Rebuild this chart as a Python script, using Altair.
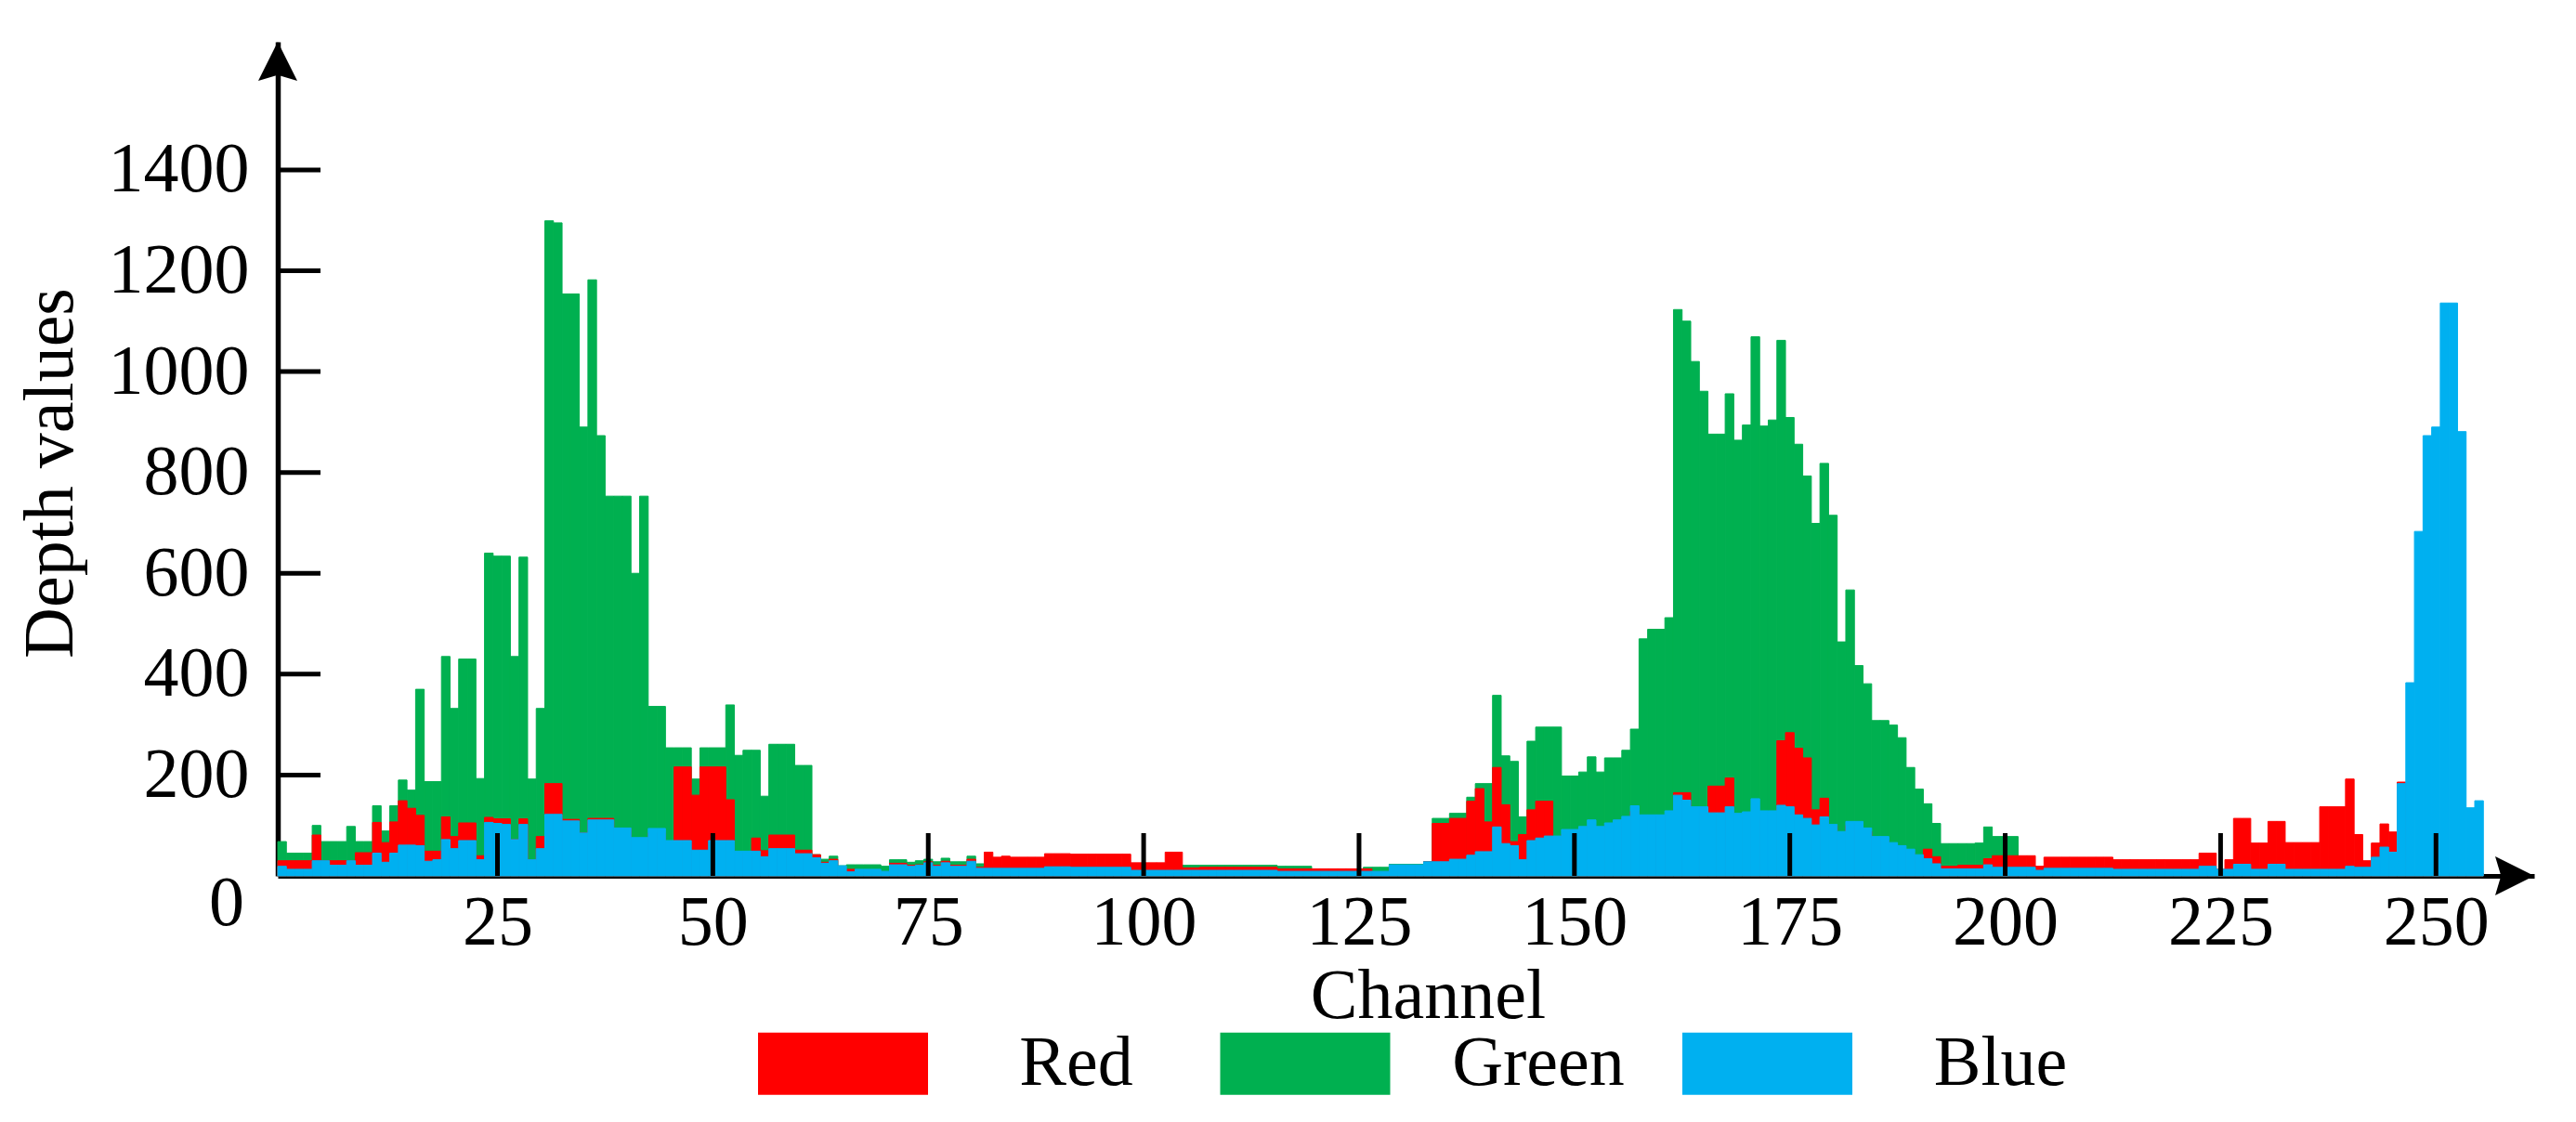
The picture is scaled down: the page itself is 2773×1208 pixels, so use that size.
import altair as alt
import pandas as pd

# ---- data (channel 0..255) ----
GREEN = [
    68, 45, 45, 45, 100, 68, 68, 68, 98, 68,
    68, 139, 89, 139, 190, 170, 370, 187, 187, 435,
    332, 430, 430, 193, 640, 634, 634, 435, 632, 192,
    332, 1299, 1295, 1154, 1154, 890, 1182, 873, 753, 753,
    753, 600, 753, 336, 336, 254, 254, 254, 192, 254,
    254, 254, 339, 239, 249, 249, 158, 261, 261, 261,
    219, 219, 42, 33, 39, 20, 22, 22, 22, 22,
    19, 32, 32, 27, 30, 33, 28, 35, 28, 28,
    39, 24, 24, 20, 20, 20, 20, 20, 20, 20,
    20, 20, 20, 20, 20, 20, 20, 20, 20, 20,
    20, 20, 20, 20, 20, 21, 21, 21, 21, 21,
    21, 21, 21, 21, 21, 21, 19, 19, 19, 19,
    12, 12, 12, 12, 12, 12, 17, 17, 17, 23,
    23, 23, 23, 28, 114, 114, 124, 124, 156, 183,
    183, 358, 238, 227, 117, 267, 295, 295, 295, 198,
    198, 206, 236, 206, 234, 234, 249, 291, 470, 489,
    489, 512, 1123, 1100, 1020, 961, 876, 876, 956, 864,
    894, 1069, 892, 904, 1062, 909, 856, 793, 699, 818,
    715, 464, 567, 417, 381, 308, 308, 299, 274, 215,
    172, 143, 104, 64, 64, 64, 64, 65, 97, 78,
    78, 78, 4, 4, 4, 4, 4, 4, 4, 4,
    4, 4, 4, 4, 4, 4, 4, 4, 4, 4,
    4, 4, 4, 4, 4, 4, 4, 4, 4, 4,
    4, 4, 4, 4, 4, 4, 4, 4, 4, 4,
    4, 4, 4, 4, 4, 4, 4, 4, 4, 4,
    4, 4, 4, 4, 4, 4,
]

RED = [
    30, 30, 30, 30, 81, 30, 30, 30, 30, 46,
    46, 106, 66, 107, 149, 134, 120, 49, 49, 117,
    78, 105, 105, 40, 116, 113, 113, 72, 113, 32,
    78, 183, 183, 112, 112, 85, 114, 114, 114, 94,
    94, 70, 70, 85, 85, 68, 216, 216, 160, 216,
    216, 216, 151, 45, 45, 75, 50, 81, 81, 81,
    51, 51, 42, 27, 33, 10, 13, 10, 10, 10,
    8, 25, 25, 21, 22, 28, 21, 29, 21, 21,
    33, 17, 47, 37, 39, 37, 37, 37, 37, 44,
    44, 44, 43, 43, 43, 43, 43, 43, 43, 26,
    26, 26, 26, 47, 47, 16, 16, 17, 17, 17,
    17, 17, 17, 17, 17, 17, 14, 14, 14, 14,
    14, 14, 14, 14, 14, 14, 14, 8, 8, 15,
    15, 15, 15, 28, 104, 104, 114, 114, 148, 173,
    107, 215, 141, 68, 82, 131, 148, 148, 70, 82,
    82, 88, 100, 88, 100, 100, 108, 128, 110, 110,
    110, 120, 165, 165, 125, 120, 178, 178, 194, 115,
    115, 115, 115, 120, 268, 284, 253, 234, 131, 154,
    100, 80, 100, 100, 88, 70, 70, 58, 52, 45,
    35, 53, 38, 19, 19, 21, 21, 21, 34, 40,
    40, 40, 40, 40, 19, 37, 37, 37, 37, 37,
    37, 37, 37, 32, 32, 32, 32, 32, 32, 32,
    32, 32, 32, 45, 45, 13, 32, 114, 114, 65,
    65, 108, 108, 66, 66, 66, 66, 137, 137, 137,
    192, 82, 30, 65, 103, 87, 186, 5, 5, 5,
    5, 5, 5, 5, 5, 5,
]

BLUE = [
    19, 13, 13, 13, 30, 30, 21, 21, 30, 21,
    21, 45, 27, 45, 61, 61, 60, 29, 32, 72,
    54, 70, 70, 32, 106, 104, 102, 72, 102, 32,
    54, 122, 122, 109, 109, 85, 111, 111, 111, 95,
    95, 76, 76, 94, 94, 70, 70, 70, 51, 51,
    70, 70, 70, 49, 49, 49, 38, 54, 54, 54,
    44, 44, 36, 25, 30, 20, 8, 13, 13, 13,
    9, 22, 22, 19, 21, 26, 19, 26, 19, 19,
    29, 15, 15, 15, 15, 15, 15, 15, 15, 18,
    18, 18, 17, 17, 17, 17, 17, 17, 17, 11,
    11, 11, 11, 11, 11, 11, 11, 11, 11, 11,
    11, 11, 11, 11, 11, 11, 9, 9, 9, 9,
    9, 9, 9, 9, 9, 9, 9, 9, 9, 22,
    22, 22, 22, 28, 28, 28, 33, 33, 41, 48,
    48, 97, 64, 60, 32, 70, 75, 79, 79, 92,
    92, 98, 111, 98, 105, 111, 118, 139, 121, 121,
    121, 129, 160, 150, 137, 137, 125, 125, 137, 124,
    127, 153, 129, 129, 140, 137, 121, 114, 101, 117,
    102, 88, 108, 108, 95, 78, 78, 66, 60, 53,
    42, 34, 24, 14, 14, 14, 14, 14, 22, 17,
    17, 17, 17, 17, 11, 15, 15, 15, 15, 15,
    15, 15, 15, 13, 13, 13, 13, 13, 13, 13,
    13, 13, 13, 19, 19, 13, 13, 23, 23, 13,
    13, 23, 23, 13, 13, 13, 13, 13, 13, 13,
    19, 17, 17, 37, 57, 47, 183, 383, 683, 873,
    890, 1136, 1136, 881, 135, 149,
]

SERIES = ["Red", "Green", "Blue"]
COLORS = ["#FF0000", "#00B050", "#00B0F0"]
X_TICKS = [25, 50, 75, 100, 125, 150, 175, 200, 225, 250]
Y_TICKS = [200, 400, 600, 800, 1000, 1200, 1400]

# ---- layout (pixels) ----
W, H = 2429, 898
FONT = "Liberation Serif"
FS = 76

rows = []
for name, vals, z in [("Green", GREEN, 0), ("Red", RED, 1), ("Blue", BLUE, 2)]:
    for ch, v in enumerate(vals):
        rows.append({"channel": ch, "value": v, "series": name, "z": z})
df = pd.DataFrame(rows)

xscale = alt.Scale(domain=[-0.5, 261.4], nice=False, zero=False)
yscale = alt.Scale(domain=[0, 1654], nice=False, zero=True)
cscale = alt.Scale(domain=SERIES, range=COLORS)

AX_X = alt.Axis(values=X_TICKS, ticks=False, grid=False, format="d",
                domain=True, domainColor="black", domainWidth=5,
                labelFont=FONT, labelFontSize=FS, labelColor="black",
                labelPadding=13, labelFlush=False, labelOverlap=False,
                title="Channel", titleFont=FONT, titleFontSize=FS,
                titleFontWeight="normal", titleColor="black",
                titleX=1238, titleY=152, titleBaseline="alphabetic",
                titleAlign="center")
AX_Y = alt.Axis(values=Y_TICKS, ticks=False, grid=False, format="d",
                domain=True, domainColor="black", domainWidth=5.5,
                labelFont=FONT, labelFontSize=FS, labelColor="black",
                labelPadding=31, labelFlush=False, labelOverlap=False,
                title="Depth values", titleFont=FONT, titleFontSize=FS,
                titleFontWeight="normal", titleColor="black",
                titleX=-222, titleY=464, titleBaseline="alphabetic",
                titleAlign="center", titleAngle=270)

rect_path = "M-1,-0.366L1,-0.366L1,0.366L-1,0.366Z"

bars = alt.Chart(df).transform_calculate(
    x0="datum.channel - 0.5", x1="datum.channel + 0.5"
).mark_bar(strokeWidth=1).encode(
    x=alt.X("x0:Q", scale=xscale, axis=AX_X, title="Channel"),
    x2="x1:Q",
    y=alt.Y("value:Q", scale=yscale, stack=None, axis=AX_Y, title="Depth values"),
    y2=alt.datum(0),
    color=alt.Color("series:N", scale=cscale,
                    legend=alt.Legend(orient="none", legendX=517, legendY=1008.5,
                                      direction="horizontal", columns=3,
                                      title=None, symbolType=rect_path,
                                      symbolSize=33489, symbolStrokeWidth=0,
                                      symbolOpacity=1,
                                      labelFont=FONT, labelFontSize=FS,
                                      labelColor="black", labelAlign="center",
                                      labelOffset=159.5, columnPadding=61.5,
                                      gridAlign="all", padding=0, offset=0,
                                      labelLimit=500)),
    stroke=alt.Stroke("series:N", scale=cscale, legend=None),
    order=alt.Order("z:Q"),
)

xt = alt.Chart(pd.DataFrame({"t": X_TICKS})).mark_rule(
    color="black", strokeWidth=5
).encode(
    x=alt.X("t:Q", scale=xscale, axis=AX_X, title="Channel"),
    y=alt.value(H), y2=alt.value(H - 46),
)

yt = alt.Chart(pd.DataFrame({"t": Y_TICKS})).mark_rule(
    color="black", strokeWidth=5
).encode(
    y=alt.Y("t:Q", scale=yscale, axis=AX_Y, title="Depth values"),
    x=alt.value(0), x2=alt.value(46),
)

arrow_up = alt.Chart(pd.DataFrame({"a": [1]})).mark_point(
    shape="M0,-1L1,1L0,0.7L-1,1Z", size=1764, filled=True,
    color="black", opacity=1, strokeWidth=0
).encode(x=alt.value(0), y=alt.value(21))

arrow_right = alt.Chart(pd.DataFrame({"a": [1]})).mark_point(
    shape="M1,0L-1,1L-0.7,0L-1,-1Z", size=1764, filled=True,
    color="black", opacity=1, strokeWidth=0
).encode(x=alt.value(W - 21), y=alt.value(H))

zero = alt.Chart(pd.DataFrame({"label": ["0"]})).mark_text(
    align="right", baseline="middle", font=FONT, fontSize=FS, color="black"
).encode(text="label:N", x=alt.value(-36), y=alt.value(928))

chart = alt.layer(bars, xt, yt, arrow_up, arrow_right, zero).properties(
    width=W, height=H,
    padding={"left": 291, "top": 37, "right": 20, "bottom": 250},
    autosize=alt.AutoSizeParams(type="none"),
    background="white",
).configure(font=FONT).configure_view(strokeWidth=0)

chart.save("out.html", embed_options={"renderer": "svg", "actions": False})
